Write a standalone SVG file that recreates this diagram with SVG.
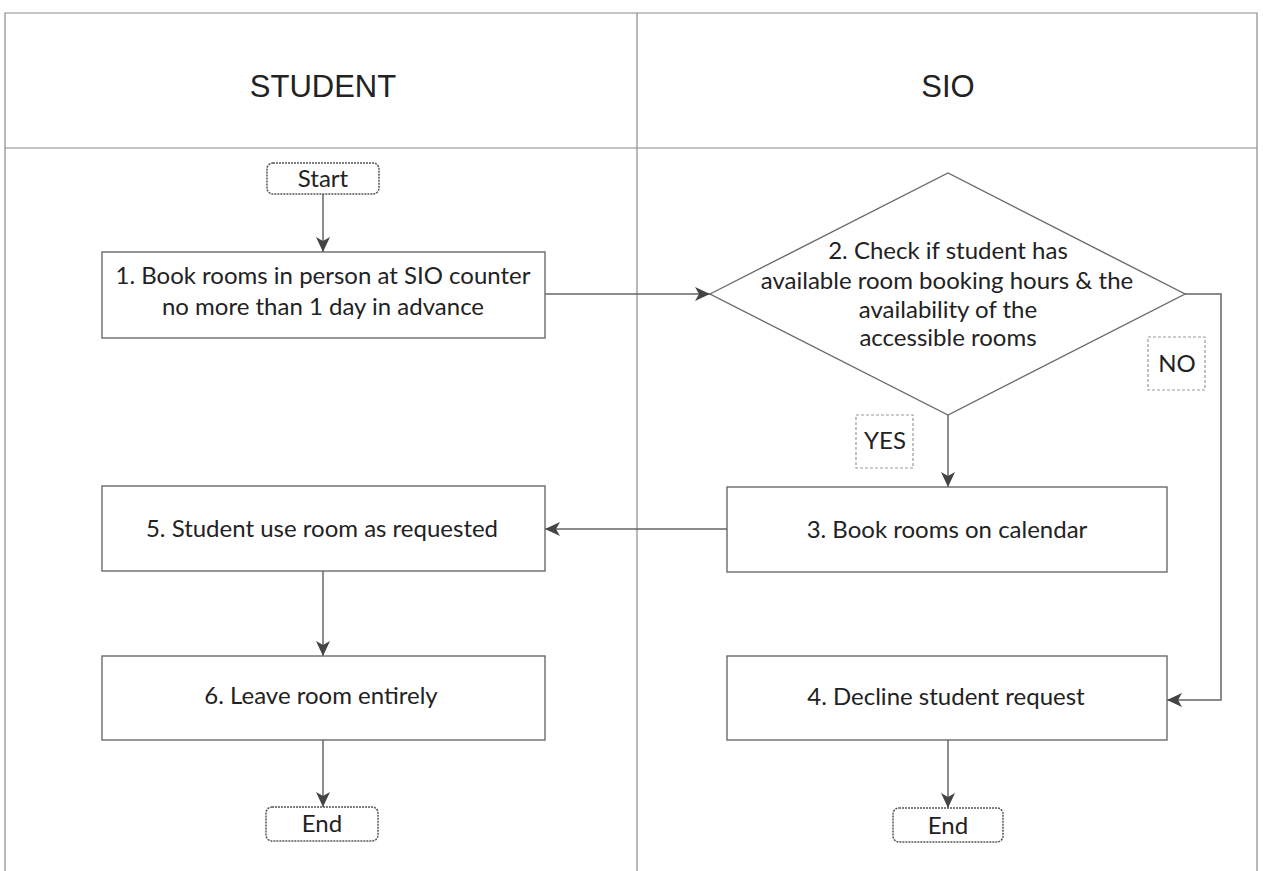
<svg xmlns="http://www.w3.org/2000/svg" width="1263" height="871" viewBox="0 0 1263 871">
<style>
.frame{fill:none;stroke:#8a8a8a;stroke-width:1.2}
.box{fill:#fff;stroke:#6a6a6a;stroke-width:1.4}
.term{fill:#fff;stroke:#555;stroke-width:1.5;stroke-dasharray:2 1}
.lbl{fill:#fff;stroke:#999;stroke-width:1.2;stroke-dasharray:3 2}
.t{font-family:Lato,"Liberation Sans",sans-serif;font-size:24px;fill:#222;text-anchor:middle}
.h{font-family:"Liberation Sans",Arial,sans-serif;font-size:31px;fill:#222;text-anchor:middle}
.c{fill:none;stroke:#666;stroke-width:1.5}
</style>
<defs>
<marker id="arr" markerUnits="userSpaceOnUse" markerWidth="16" markerHeight="16" refX="15" refY="8" orient="auto">
<path d="M0,1 L15,8 L0,15 L4,8 Z" fill="#444"/>
</marker>
</defs>
<rect width="1263" height="871" fill="#fff"/>
<g id="lanes">
<path class="frame" d="M5,871 V13 H1257 V871 M637,13 V871 M5,148 H1257"/>
<text class="h" x="323" y="97">STUDENT</text>
<text class="h" x="948" y="97">SIO</text>
</g>
<g id="connectors">
<path class="c" d="M323,194 V252" marker-end="url(#arr)"/>
<path class="c" d="M545,294 H710" marker-end="url(#arr)"/>
<path class="c" d="M948,415 V487" marker-end="url(#arr)"/>
<path class="c" d="M1185,294 H1221 V700 H1167" marker-end="url(#arr)"/>
<path class="c" d="M727,529 H545" marker-end="url(#arr)"/>
<path class="c" d="M323,571 V656" marker-end="url(#arr)"/>
<path class="c" d="M323,740 V807" marker-end="url(#arr)"/>
<path class="c" d="M948,740 V808" marker-end="url(#arr)"/>
</g>
<g id="start">
<rect class="term" x="267" y="163" width="112" height="31" rx="6"/>
<text class="t" x="323" y="187">Start</text>
</g>
<g id="step1">
<rect class="box" x="102" y="252" width="443" height="86"/>
<text class="t" x="323" y="284">1. Book rooms in person at SIO counter</text>
<text class="t" x="323" y="315">no more than 1 day in advance</text>
</g>
<g id="step2">
<polygon class="box" points="710,294 948,173 1185,294 948,415"/>
<text class="t" x="948" y="259">2. Check if student has</text>
<text class="t" x="947" y="289">available room booking hours &amp; the</text>
<text class="t" x="948" y="318">availability of the</text>
<text class="t" x="948" y="346">accessible rooms</text>
</g>
<g id="no">
<rect class="lbl" x="1148" y="337" width="57" height="53"/>
<text class="t" x="1177" y="372">NO</text>
</g>
<g id="yes">
<rect class="lbl" x="856" y="415" width="57" height="53"/>
<text class="t" x="885" y="449">YES</text>
</g>
<g id="step3">
<rect class="box" x="727" y="487" width="440" height="85"/>
<text class="t" x="947" y="538">3. Book rooms on calendar</text>
</g>
<g id="step5">
<rect class="box" x="102" y="486" width="443" height="85"/>
<text class="t" x="322" y="537">5. Student use room as requested</text>
</g>
<g id="step6">
<rect class="box" x="102" y="656" width="443" height="84"/>
<text class="t" x="321" y="704">6. Leave room entirely</text>
</g>
<g id="step4">
<rect class="box" x="727" y="656" width="440" height="84"/>
<text class="t" x="946" y="705">4. Decline student request</text>
</g>
<g id="end1">
<rect class="term" x="266" y="807" width="112" height="34" rx="6"/>
<text class="t" x="322" y="832">End</text>
</g>
<g id="end2">
<rect class="term" x="893" y="808" width="110" height="34" rx="6"/>
<text class="t" x="948" y="834">End</text>
</g>
</svg>
